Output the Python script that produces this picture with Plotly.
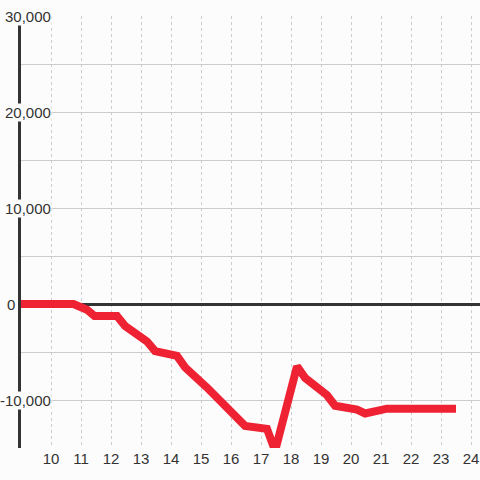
import plotly.graph_objects as go

# Data
x_vals = [9, 10.75, 11.2, 11.45, 12.2, 12.47, 13.2, 13.47, 14.2, 14.47, 15.2, 16.2, 16.47,
          17.2, 17.47, 18.2, 18.47, 19.2, 19.47, 20.2, 20.47, 21.2, 23.5]
y_vals = [0, 0, -600, -1250, -1250, -2300, -3900, -4900, -5400, -6600, -8700, -11700, -12700,
          -13000, -15300, -6500, -7700, -9500, -10600, -11000, -11400, -10900, -10900]

x_ticks = list(range(10, 25))
y_label_vals = [30000, 20000, 10000, 0, -10000]
y_label_text = ["30,000", "20,000", "10,000", "0", "-10,000"]

BG = "#fcfcfc"
FONT = "Liberation Sans, Arial, sans-serif"

fig = go.Figure()
fig.add_trace(go.Scatter(x=x_vals, y=y_vals, mode="lines",
                         line=dict(color="#ee2233", width=8), hoverinfo="skip"))

annotations = []
for v, t in zip(y_label_vals, y_label_text):
    ax = -0.011 if v == 0 else 0.0675
    annotations.append(dict(x=ax, xref="paper", y=v, yref="y", text=t, showarrow=False,
                            xanchor="right", yanchor="middle",
                            font=dict(family=FONT, size=15, color="#333"),
                            bgcolor=BG, borderpad=0))

fig.update_layout(
    width=480, height=480,
    margin=dict(l=21, r=0, t=16, b=32),
    paper_bgcolor=BG, plot_bgcolor=BG,
    showlegend=False,
    annotations=annotations,
    xaxis=dict(range=[9, 24.3], tickvals=x_ticks, ticktext=[str(t) for t in x_ticks],
               showgrid=True, gridcolor="#cccccc", griddash="3px,3px", gridwidth=1,
               zeroline=False, showline=False, ticks="",
               tickfont=dict(family=FONT, size=15, color="#333")),
    yaxis=dict(range=[-15000, 30000], dtick=5000, tick0=0,
               showgrid=True, gridcolor="#cccccc", gridwidth=1,
               zeroline=True, zerolinecolor="#333333", zerolinewidth=3,
               showline=True, linecolor="#333333", linewidth=3,
               layer="below traces",
               showticklabels=False, ticks=""),
)

fig.write_html("out.html", config={"displayModeBar": False},
               post_script="document.body.style.margin='0';document.body.style.background='%s';" % BG)
